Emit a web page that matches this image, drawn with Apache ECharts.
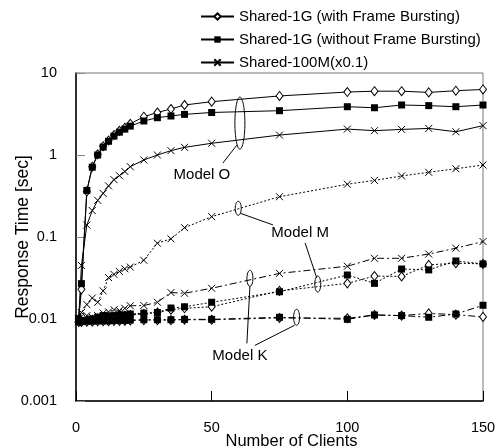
<!DOCTYPE html>
<html>
<head>
<meta charset="utf-8">
<script src="https://cdn.jsdelivr.net/npm/echarts@6/dist/echarts.min.js"></script>
<style>
  html, body { margin: 0; padding: 0; background: #fff; }
  #chart { width: 497px; height: 447px; }
</style>
</head>
<body>
<div id="chart"></div>
<script>
// number of clients (x)
const clients = [1, 2, 4, 6, 8, 10, 12, 14, 16, 18, 20, 25, 30, 35, 40, 50, 75, 100, 110, 120, 130, 140, 150];

// Model O
const oWithFB    = [0.01, 0.023, 0.36, 0.72, 1.02, 1.28, 1.5, 1.75, 1.97, 2.15, 2.4, 2.93, 3.3, 3.64, 4.07, 4.47, 5.25, 5.86, 6.0, 6.0, 5.8, 6.08, 6.3];
const oWithoutFB = [0.01, 0.027, 0.37, 0.71, 1.0, 1.25, 1.47, 1.7, 1.9, 2.07, 2.25, 2.6, 2.85, 2.99, 3.13, 3.3, 3.47, 3.88, 3.77, 4.07, 4.0, 3.88, 4.07];
const o100M      = [0.01, 0.045, 0.14, 0.21, 0.28, 0.34, 0.42, 0.5, 0.56, 0.63, 0.72, 0.87, 1.0, 1.13, 1.24, 1.39, 1.75, 2.07, 1.98, 2.05, 2.11, 1.92, 2.28];

// Model M
const mWithFB    = [0.0093, 0.0093, 0.0095, 0.0098, 0.0102, 0.0105, 0.0105, 0.0107, 0.011, 0.011, 0.0112, 0.0115, 0.012, 0.013, 0.0135, 0.0141, 0.022, 0.0272, 0.0334, 0.033, 0.0457, 0.048, 0.047];
const mWithoutFB = [0.0093, 0.0095, 0.0097, 0.01, 0.0105, 0.011, 0.0108, 0.011, 0.0112, 0.0112, 0.0115, 0.0118, 0.012, 0.0136, 0.0141, 0.016, 0.0215, 0.0344, 0.0272, 0.0407, 0.0397, 0.051, 0.047];
const m100M      = [0.01, 0.012, 0.015, 0.018, 0.016, 0.022, 0.032, 0.035, 0.038, 0.041, 0.043, 0.052, 0.084, 0.095, 0.13, 0.177, 0.31, 0.44, 0.49, 0.555, 0.615, 0.68, 0.755];

// Model K
const kWithFB    = [0.0092, 0.0092, 0.0093, 0.0093, 0.0094, 0.0094, 0.0094, 0.0095, 0.0095, 0.0095, 0.0096, 0.0097, 0.0097, 0.0097, 0.0098, 0.0098, 0.0103, 0.0102, 0.0112, 0.011, 0.0117, 0.0113, 0.0106];
const kWithoutFB = [0.0093, 0.0093, 0.0094, 0.0094, 0.0095, 0.0095, 0.0095, 0.0096, 0.0096, 0.0096, 0.0097, 0.0098, 0.0098, 0.0098, 0.0099, 0.0099, 0.0105, 0.0099, 0.0112, 0.011, 0.0105, 0.0115, 0.0147];
const k100M      = [0.0095, 0.012, 0.011, 0.0105, 0.011, 0.0118, 0.0122, 0.013, 0.0127, 0.0135, 0.0145, 0.0146, 0.016, 0.021, 0.0206, 0.0237, 0.036, 0.044, 0.055, 0.055, 0.062, 0.073, 0.088];

const names = ['Shared-1G (with Frame Bursting)', 'Shared-1G (without Frame Bursting)', 'Shared-100M(x0.1)'];
const yTicks = [0.001, 0.01, 0.1, 1, 10];

const FONT = 'Liberation Sans, Arial, sans-serif';
const crossPath = 'path://M0,0L10,10M10,0L0,10';

const pairs = (ys) => clients.map((c, i) => [c, ys[i]]);

function mk(name, ys, kind, dash) {
  const s = {
    name: name,
    type: 'line',
    data: pairs(ys),
    showAllSymbol: true,
    lineStyle: { color: '#000', width: 1, type: dash },
    emphasis: { disabled: true },
    animation: false
  };
  if (kind === 'diamond') {
    s.symbol = 'diamond';
    s.symbolSize = [7, 9];
    s.itemStyle = { color: '#fff', borderColor: '#000', borderWidth: 1 };
  } else if (kind === 'square') {
    s.symbol = 'rect';
    s.symbolSize = 7;
    s.itemStyle = { color: '#000', borderColor: '#000', borderWidth: 0 };
  } else {
    s.symbol = crossPath;
    s.symbolSize = 7;
    s.itemStyle = { color: '#000', borderColor: '#000', borderWidth: 1 };
  }
  return s;
}

const dotted = [2, 2];
const dashDot = [7, 3, 2, 3];

const chart = echarts.init(document.getElementById('chart'));

const option = {
  backgroundColor: '#fff',
  animation: false,
  textStyle: { fontFamily: FONT, color: '#000' },
  grid: {
    left: 76, top: 73, right: 14, bottom: 46,
    outerBoundsMode: 'none', containLabel: false,
    show: true, borderColor: '#777', borderWidth: 1
  },
  legend: {
    data: names,
    orient: 'vertical',
    left: 195,
    top: 4,
    itemWidth: 33,
    itemHeight: 8,
    itemGap: 8,
    textStyle: { fontFamily: FONT, fontSize: 15, color: '#000' }
  },
  xAxis: {
    type: 'value',
    min: 0, max: 150, interval: 50,
    name: 'Number of Clients',
    nameLocation: 'middle',
    nameGap: 32,
    nameMoveOverlap: false,
    nameTextStyle: { fontFamily: FONT, fontSize: 16.5, color: '#000', padding: [0, 0, 0, 24] },
    axisLine: { lineStyle: { color: '#000', width: 1.5 } },
    axisTick: { inside: true, length: 10, lineStyle: { color: '#000' } },
    axisLabel: { fontFamily: FONT, fontSize: 14.5, color: '#000', margin: 19 },
    splitLine: { show: false }
  },
  yAxis: {
    type: 'log',
    logBase: 10,
    min: 0.001, max: 10,
    name: 'Response Time [sec]',
    nameLocation: 'middle',
    nameGap: 44,
    nameMoveOverlap: false,
    nameTextStyle: { fontFamily: FONT, fontSize: 17.5, color: '#000' },
    axisLine: { lineStyle: { color: '#000', width: 1.5 } },
    axisTick: { inside: true, length: 9, lineStyle: { color: '#888' } },
    axisLabel: {
      fontFamily: FONT, fontSize: 14.5, color: '#000', margin: 19,
      formatter: (v) => {
        let best = yTicks[0];
        yTicks.forEach(t => { if (Math.abs(Math.log10(t) - Math.log10(v)) < Math.abs(Math.log10(best) - Math.log10(v))) best = t; });
        return String(best);
      }
    },
    splitLine: { show: false },
    minorTick: { show: false }
  },
  series: [
    mk(names[0], oWithFB, 'diamond', 'solid'),
    mk(names[1], oWithoutFB, 'square', 'solid'),
    mk(names[2], o100M, 'cross', 'solid'),
    mk(names[0], mWithFB, 'diamond', dotted),
    mk(names[1], mWithoutFB, 'square', dotted),
    mk(names[2], m100M, 'cross', dotted),
    mk(names[0], kWithFB, 'diamond', dashDot),
    mk(names[1], kWithoutFB, 'square', dashDot),
    mk(names[2], k100M, 'cross', dashDot)
  ]
};

chart.setOption(option);

// annotations: ellipses and labels anchored in data coordinates
const ellipses = [
  { at: [60.4, 2.45], rx: 5, ry: 26 },   // Model O
  { at: [59.8, 0.224], rx: 3, ry: 7 },   // Model M (upper)
  { at: [89.1, 0.0267], rx: 3, ry: 8 },  // Model M (lower)
  { at: [64.1, 0.0313], rx: 3, ry: 8 },  // Model K (upper)
  { at: [81.3, 0.0105], rx: 3, ry: 8 }   // Model K (lower)
];
const labels = [
  { text: 'Model O', at: [46.4, 0.57] },
  { text: 'Model M', at: [82.6, 0.112] },
  { text: 'Model K', at: [60.4, 0.0036] }
];
// pointer lines: [ellipse index, dx0, dy0, label index, dx1, dy1] (pixel offsets)
const pointers = [
  [0, -3, 22, 0, 21, -12],
  [1, 2, 5, 1, -27, -8],
  [2, -1, -6, 1, 5, 10],
  [3, 0, 8, 2, 7, -12],
  [4, -2, 8, 2, 15, -10]
];

const px = (p) => chart.convertToPixel({ gridIndex: 0 }, p);
const graphic = [];
const ePts = ellipses.map(e => px(e.at));
const lPts = labels.map(l => px(l.at));
ellipses.forEach((e, i) => {
  graphic.push({ type: 'ellipse', shape: { cx: ePts[i][0], cy: ePts[i][1], rx: e.rx, ry: e.ry },
    style: { fill: 'none', stroke: '#000', lineWidth: 1 }, z: 100 });
});
labels.forEach((l, i) => {
  graphic.push({ type: 'text', x: lPts[i][0], y: lPts[i][1],
    style: { text: l.text, font: '15px ' + FONT, fill: '#000', textAlign: 'center', textVerticalAlign: 'middle' }, z: 100 });
});
pointers.forEach(p => {
  const a = ePts[p[0]], b = lPts[p[3]];
  graphic.push({ type: 'line', shape: { x1: a[0] + p[1], y1: a[1] + p[2], x2: b[0] + p[4], y2: b[1] + p[5] },
    style: { stroke: '#000', lineWidth: 1 }, z: 100 });
});
chart.setOption({ graphic: graphic });
</script>
</body>
</html>
